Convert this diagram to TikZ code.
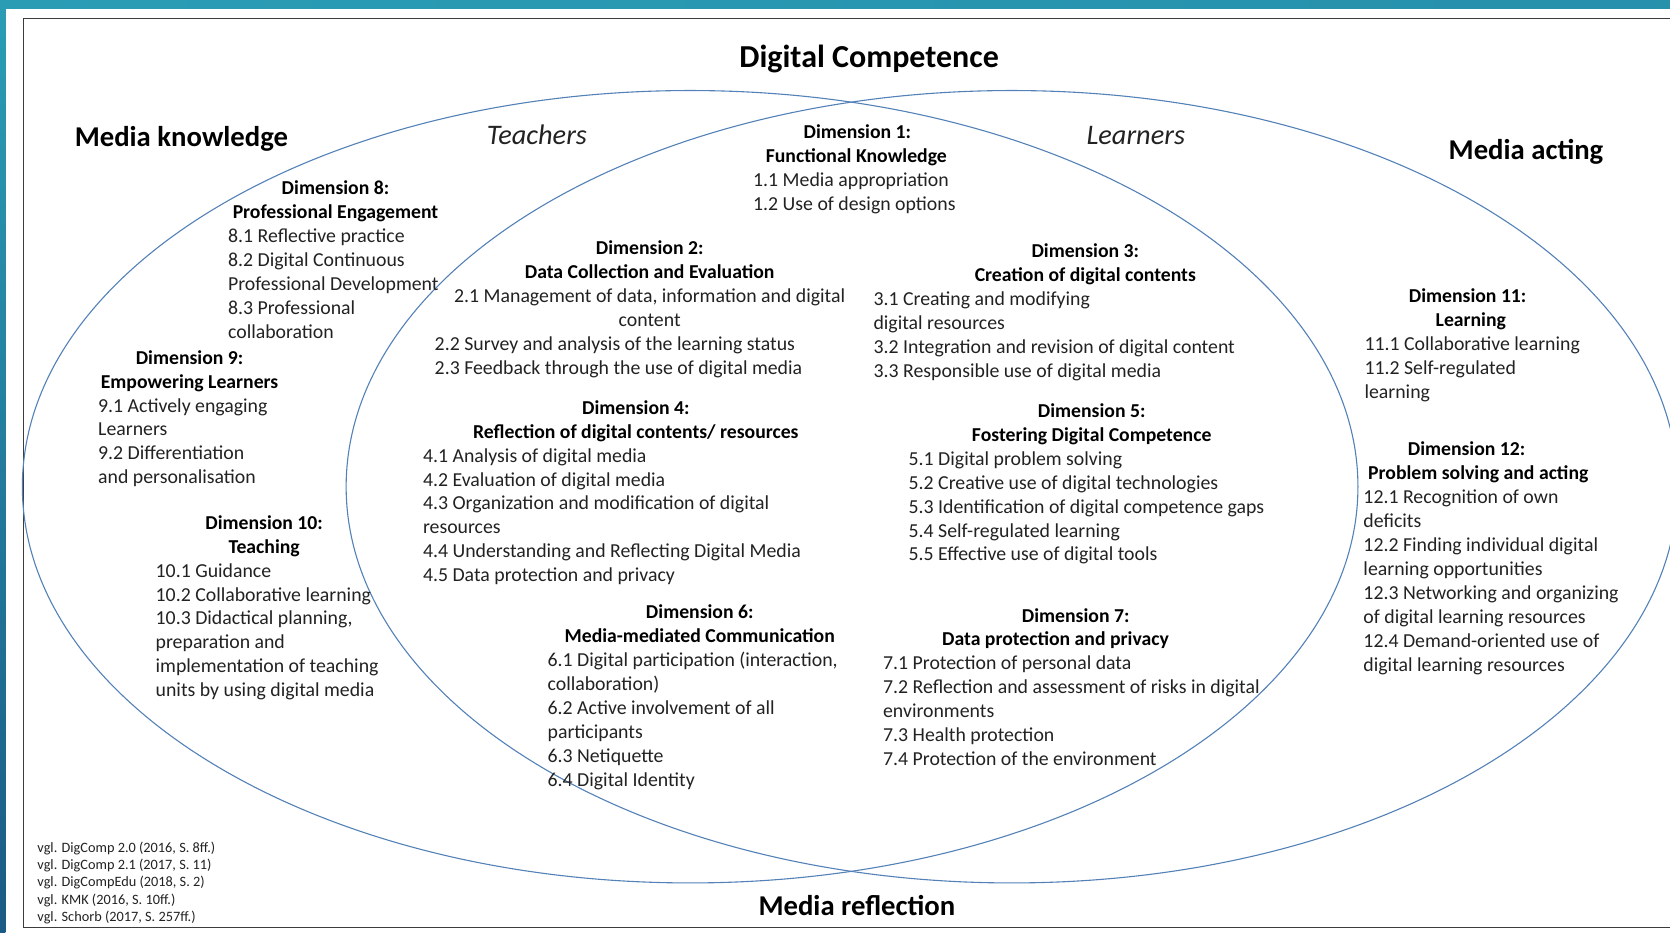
\documentclass[tikz,border=0pt]{standalone}
\usepackage{fontspec}
\setmainfont{Carlito}
\definecolor{ellc}{HTML}{5482B8}
\definecolor{framec}{HTML}{3C3C3C}
\definecolor{tealA}{HTML}{2A9DB5}
\definecolor{tealB}{HTML}{1B5A85}
\definecolor{tealM}{HTML}{3C8796}
\definecolor{txtc}{HTML}{222222}
\tikzset{
 txt/.style={inner sep=0pt, text=txtc, font=\fontsize{19.8}{23.9}\selectfont},
 hd/.style={inner sep=0pt, text=black, font=\fontsize{19.7}{23.9}\selectfont\bfseries},
 ttl/.style={inner sep=0pt, text=black, font=\fontsize{28.7}{34}\selectfont\bfseries},
 itl/.style={inner sep=0pt, text=txtc, font=\fontsize{28.3}{34}\selectfont\itshape},
 refs/.style={inner sep=0pt, text=txtc, font=\fontsize{14.3}{17}\selectfont},
 ell/.style={draw=ellc, line width=1.1pt},
}
\newcommand{\dimlist}[4]{\foreach \t [count=\i] in {#4}{\node[txt, anchor=base west] (#3\i) at (#1,{#2+(\i-1)*22.45}) {\t};}}
\newcommand{\dimhead}[6]{%
 \node[hd, anchor=base] (#1a) at (#2,#4) {#5};
 \node[hd, anchor=base] (#1b) at (#3,{#4+22.45}) {#6};}
\begin{document}
\begin{tikzpicture}[x=1.0651pt,y=-1.0651pt]
\useasboundingbox (0,0) rectangle (1568,876);
\fill[white] (0,0) rectangle (1568,876);
\shade[top color=tealA, bottom color=tealB] (0,0) rectangle (5,876);
\shade[left color=tealA, middle color=tealM, right color=tealA!80!tealB] (0,0) rectangle (1568,8);
\begin{scope}
\clip (0,0) rectangle (1568,876);
\draw[framec, line width=1.2pt] (22,17) rectangle (1600,871);
\draw[ell] (648,457) ellipse [x radius=627, y radius=372];
\draw[ell] (950,457) ellipse [x radius=625, y radius=372];
\end{scope}
% titles
\node[ttl, font=\fontsize{32}{38}\selectfont\bfseries, anchor=base] (dc) at (816,63) {Digital Competence};
\node[ttl, anchor=base west] (mk) at (70,138) {Media knowledge};
\node[itl, anchor=base west] (tea) at (457,136) {Teachers};
\node[itl, anchor=base west] (lea) at (1020,136) {Learners};
\node[ttl, anchor=base west] (ma) at (1360,150) {Media acting};
\node[ttl, anchor=base west] (mr) at (712,860) {Media reflection};
% Dimension 1
\dimhead{d1h}{805}{804}{130}{Dimension 1:}{Functional Knowledge}
\dimlist{707}{174.9}{d1l}{1.1 Media appropriation, 1.2 Use of design options}
% Dimension 8
\dimhead{d8h}{315}{315}{183}{Dimension 8:}{Professional Engagement}
\dimlist{214}{227.9}{d8l}{8.1 Reflective practice, 8.2 Digital Continuous, Professional Development, 8.3 Professional, collaboration}
% Dimension 9
\dimhead{d9h}{178}{178}{342}{Dimension 9:}{Empowering Learners}
\dimlist{92}{386.9}{d9l}{9.1 Actively engaging, Learners, 9.2 Differentiation, and personalisation}
% Dimension 10
\dimhead{d10h}{248}{248}{497}{Dimension 10:}{Teaching}
\dimlist{146}{541.9}{d10l}{10.1 Guidance, 10.2 Collaborative learning, {10.3 Didactical planning,}, preparation and, implementation of teaching, units by using digital media}
% Dimension 2
\dimhead{d2h}{610}{610}{239}{Dimension 2:}{Data Collection and Evaluation}
\node[txt, anchor=base] (d2c1) at (610,283.9) {2.1 Management of data, information and digital};
\node[txt, anchor=base] (d2c2) at (610,306.35) {content};
\dimlist{408}{328.8}{d2l}{2.2 Survey and analysis of the learning status, 2.3 Feedback through the use of digital media}
% Dimension 4
\dimhead{d4h}{597}{597}{389}{Dimension 4:}{Reflection of digital contents/ resources}
\dimlist{397}{433.9}{d4l}{4.1 Analysis of digital media, 4.2 Evaluation of digital media, 4.3 Organization and modification of digital, resources, 4.4 Understanding and Reflecting Digital Media, 4.5 Data protection and privacy}
% Dimension 3
\dimhead{d3h}{1019}{1019}{242}{Dimension 3:}{Creation of digital contents}
\dimlist{820}{286.9}{d3l}{3.1 Creating and modifying, digital resources, 3.2 Integration and revision of digital content, 3.3 Responsible use of digital media}
% Dimension 5
\dimhead{d5h}{1025}{1025}{392}{Dimension 5:}{Fostering Digital Competence}
\dimlist{853}{436.9}{d5l}{5.1 Digital problem solving, 5.2 Creative use of digital technologies, 5.3 Identification of digital competence gaps, 5.4 Self-regulated learning, 5.5 Effective use of digital tools}
% Dimension 6
\dimhead{d6h}{657}{657}{581}{Dimension 6:}{Media-mediated Communication}
\dimlist{514}{625.9}{d6l}{{6.1 Digital participation (interaction,}, collaboration), 6.2 Active involvement of all, participants, 6.3 Netiquette, 6.4 Digital Identity}
% Dimension 7
\dimhead{d7h}{1010}{991}{584}{Dimension 7:}{Data protection and privacy}
\dimlist{829}{628.9}{d7l}{7.1 Protection of personal data, 7.2 Reflection and assessment of risks in digital, environments, 7.3 Health protection, 7.4 Protection of the environment}
% Dimension 11
\dimhead{d11h}{1378}{1381}{284}{Dimension 11:}{Learning}
\dimlist{1281}{328.9}{d11l}{11.1 Collaborative learning, 11.2 Self-regulated, learning}
% Dimension 12
\dimhead{d12h}{1377}{1388}{428}{Dimension 12:}{Problem solving and acting}
\dimlist{1280}{472.9}{d12l}{12.1 Recognition of own, deficits, 12.2 Finding individual digital, learning opportunities, 12.3 Networking and organizing, of digital learning resources, 12.4 Demand-oriented use of, digital learning resources}
% references
\foreach \t [count=\i] in {{vgl. DigComp 2.0 (2016, S. 8ff.)}, {vgl. DigComp 2.1 (2017, S. 11)}, {vgl. DigCompEdu (2018, S. 2)}, {vgl. KMK (2016, S. 10ff.)}, {vgl. Schorb (2017, S. 257ff.)}}
 {\node[refs, anchor=base west] (ref\i) at (35,{800+(\i-1)*16.3}) {\t};}
\end{tikzpicture}
\end{document}
